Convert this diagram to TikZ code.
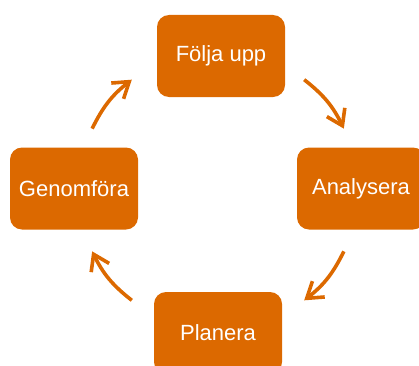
\documentclass[tikz,border=0pt]{standalone}
\usepackage{fontspec}
\setmainfont{Liberation Sans}
\usetikzlibrary{arrows.meta,calc}
\definecolor{cykel}{RGB}{220,105,0}

\begin{document}
\begin{tikzpicture}[x=1pt, y=1pt,
  steg/.style={fill=cykel, rounded corners=12pt, minimum width=128pt,
    minimum height=82pt, inner sep=0pt, text=white,
    font=\fontsize{22}{26}\selectfont},
  pil/.style={cykel, line width=3.6pt, -{Straight Barb[length=15pt,width=20pt]}}]
  \useasboundingbox (0,0) rectangle (419,365);
  \clip (0,0) rectangle (419,365);

  % the four steps of the cycle
  \node[steg] (folja)    at (221,309)   {Följa upp};
  \node[steg] (analys)   at (361,176.5) {Analysera};
  \node[steg] (planera)  at (218,32)    {Planera};
  \node[steg] (genomfor) at (74,176.5)  {Genomföra};

  % arrows sit on a circle round the middle
  \coordinate (hub) at (218,175);
  \coordinate (folja-ut)    at ($(hub)+(52:140)$);
  \coordinate (analys-in)   at ($(hub)+(26:140)$);
  \coordinate (analys-ut)   at ($(hub)+(-26:140)$);
  \coordinate (planera-in)  at ($(hub)+(-52:140)$);
  \coordinate (planera-ut)  at ($(hub)+(-128:140)$);
  \coordinate (genomfor-in) at ($(hub)+(-154:140)$);
  \coordinate (genomfor-ut) at ($(hub)+(154:140)$);
  \coordinate (folja-in)    at ($(hub)+(128:140)$);

  \draw[pil] (folja-ut)    to[bend left=13] (analys-in);
  \draw[pil] (analys-ut)   to[bend left=13] (planera-in);
  \draw[pil] (planera-ut)  to[bend left=13] (genomfor-in);
  \draw[pil] (genomfor-ut) to[bend left=13] (folja-in);
\end{tikzpicture}
\end{document}
